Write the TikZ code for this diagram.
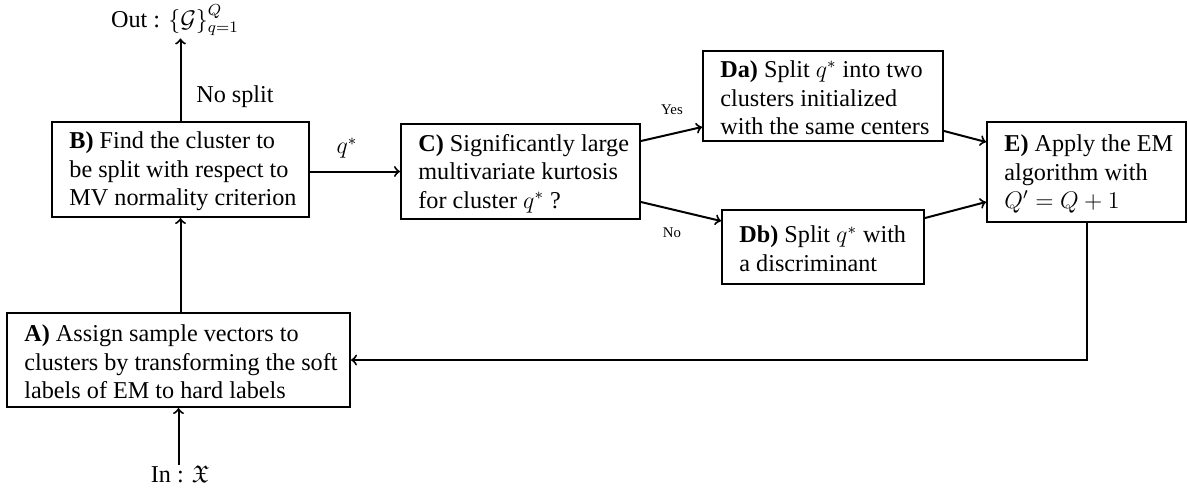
\documentclass[tikz,border=0pt]{standalone}
\usepackage{amssymb}
\usepackage{fontspec}
\setmainfont{Liberation Serif}
\begin{document}
\begin{tikzpicture}[x=0.5pt,y=-0.5pt,
  box/.style={draw,line width=1pt,inner sep=0pt},
  boxtext/.style={anchor=west,align=left,inner sep=0pt,
    font=\fontsize{12.1}{14.3}\selectfont},
  lbl/.style={font=\fontsize{12.1}{14.3}\selectfont,inner sep=0pt},
  small/.style={font=\fontsize{7.4}{9}\selectfont,inner sep=0pt},
  conn/.style={line width=1pt,->}]
\useasboundingbox (0,0) rectangle (1188,489);
% boxes
\node[box,minimum width=128.5pt,minimum height=47.5pt] (B) at (180.5,169.5) {};
\node[box,minimum width=119.5pt,minimum height=47.5pt] (C) at (520.5,171.5) {};
\node[box,minimum width=120pt,minimum height=45pt] (Da) at (823,96) {};
\node[box,minimum width=101pt,minimum height=37pt] (Db) at (823,247) {};
\node[box,minimum width=99.5pt,minimum height=50pt] (E) at (1086.5,172) {};
\node[box,minimum width=171.5pt,minimum height=47pt] (A) at (178.5,360) {};
% box texts
\node[boxtext] (Bt) at ([xshift=9pt,yshift=-1pt]B.west)
  {\textbf{B)} Find the cluster to\\be split with respect to\\MV normality criterion};
\node[boxtext] (Ct) at ([xshift=9pt,yshift=-1pt]C.west)
  {\textbf{C)} Significantly large\\multivariate kurtosis\\for cluster $q^*$ ?};
\node[boxtext] (Dat) at ([xshift=9pt,yshift=-1pt]Da.west)
  {\textbf{Da)} Split $q^*$ into two\\clusters initialized\\with the same centers};
\node[boxtext] (Dbt) at ([xshift=9pt,yshift=-1pt]Db.west)
  {\textbf{Db)} Split $q^*$ with\\a discriminant};
\node[boxtext] (Et) at ([xshift=9pt,yshift=-1pt]E.west)
  {\textbf{E)} Apply the EM\\algorithm with\\$Q'=Q+1$};
\node[boxtext] (At) at ([xshift=9pt,yshift=-1pt]A.west)
  {\textbf{A)} Assign sample vectors to\\clusters by transforming the soft\\labels of EM to hard labels};
% labels
\node[lbl,anchor=base] (Out) at (175,27) {Out : $\{\mathcal{G}\}_{q=1}^{Q}$};
\node[lbl,anchor=base] (In) at (180,482) {In : $\mathfrak{X}$};
\node[lbl] (nosplit) at (235,97) {No split};
\node[lbl] (qs) at (347,148) {$q^*$};
\node[small] (yes) at (672,110) {Yes};
\node[small] (no) at (672,233) {No};
% connectors
\draw[conn] (B.north) -- ([yshift=-1pt]B.north |- Out.south);
\draw[conn] (A.north -| B.south) -- (B.south);
\draw[conn] (In.north -| A.south) -- (A.south);
\draw[conn] (B.east |- C.west) -- (C.west);
\draw[conn] ([yshift=15.25pt]C.east) -- ([yshift=-15.5pt]Da.west);
\draw[conn] ([yshift=-15.25pt]C.east) -- ([yshift=13pt]Db.west);
\draw[conn] ([yshift=-17.5pt]Da.east) -- ([yshift=15pt]E.west);
\draw[conn] ([yshift=14.5pt]Db.east) -- ([yshift=-15pt]E.west);
\draw[conn] (E.south) |- (A.east);
\end{tikzpicture}
\end{document}
